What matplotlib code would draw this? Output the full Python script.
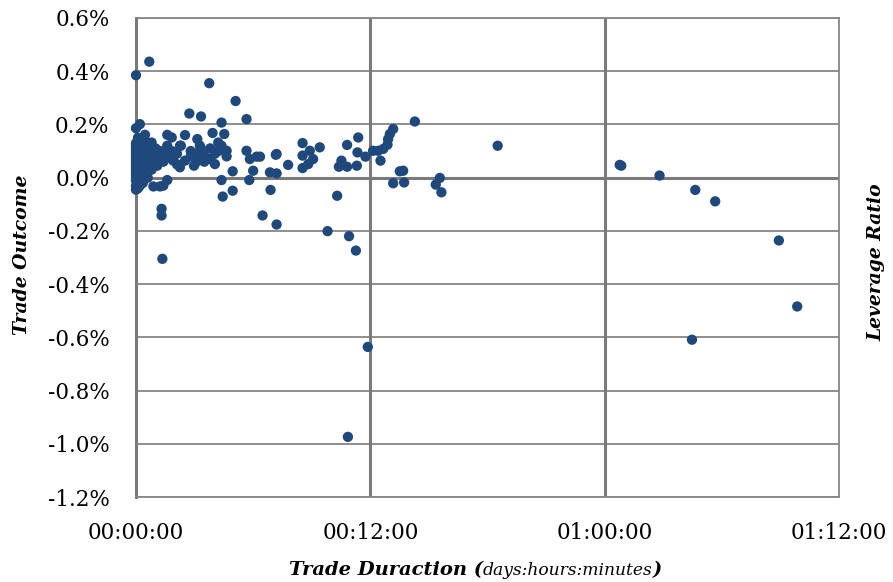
import numpy as np
import matplotlib.pyplot as plt
from matplotlib.ticker import FixedLocator, FuncFormatter

# trade duration in hours, outcome in percent
hours = [0, 0, 0, 0, 0, 0, 0, 0, 0, 0, 0, 0, 0, 0, 0, 0, 0, 0, 0,
         0.1, 0.1, 0.1, 0.1, 0.1, 0.1, 0.1, 0.1,
         0.2, 0.2, 0.2, 0.2, 0.2, 0.2, 0.2,
         0.35, 0.35, 0.35, 0.35, 0.35, 0.35,
         0.46, 0.46, 0.46, 0.46,
         0.6, 0.6, 0.6, 0.6, 0.6,
         0.68,
         0.8, 0.8, 0.8, 0.8,
         0.89, 0.89,
         1.0, 1.0, 1.0,
         1.09, 1.09,
         1.23, 1.23, 1.23,
         1.31, 1.31, 1.35,
         1.4, 1.4, 1.4,
         1.6, 1.6, 1.6, 1.6,
         1.83, 1.83, 1.83, 1.91,
         2.1, 2.1, 2.25, 2.25, 2.3,
         2.51, 2.51, 2.73, 2.8, 2.8, 2.97,
         3.1, 3.1, 3.14, 3.27, 3.33,
         3.5, 3.5, 3.5, 3.75, 3.8, 3.8, 3.92,
         4.04, 4.04, 4.21, 4.21, 4.38, 4.38, 4.38, 4.44, 4.52,
         4.64, 4.64, 4.95, 4.95, 5.1,
         5.66, 5.66, 5.8, 5.83, 6.0, 6.18, 6.35, 6.48,
         6.86, 6.89, 7.16, 7.2, 7.2, 7.2, 7.79,
         8.53, 8.53, 8.53, 8.82, 8.9, 9.07, 9.41, 9.81,
         10.3, 10.39, 10.52, 10.81, 10.81, 10.85, 10.91,
         11.26, 11.31, 11.34, 11.38, 11.75, 11.87,
         12.14, 12.4, 12.52, 12.66, 12.88, 12.91, 13.0, 13.17,
         13.17, 13.51, 13.68, 13.73, 14.28,
         15.35, 15.56, 15.64, 18.52,
         24.77, 24.85, 26.81, 28.47, 28.64, 29.66, 32.92, 33.86]

outcome = [0.385, 0.186, 0.13, 0.11, 0.09, 0.07, 0.05, 0.03, 0.01, -0.01, -0.03, -0.045, 0.12, 0.08, 0.0, 0.06, 0.1, 0.04, 0.02,
           0.15, 0.1, 0.06, 0.02, -0.02, -0.04, 0.12, 0.08,
           0.201, 0.13, 0.09, 0.05, 0.01, -0.03, 0.07,
           0.11, 0.07, 0.03, 0.0, -0.02, 0.14,
           0.161, 0.09, 0.05, 0.12,
           0.13, 0.08, 0.04, 0.0, 0.1,
           0.436,
           0.132, 0.07, 0.03, 0.1,
           -0.033, 0.06,
           0.09, 0.05, 0.11,
           0.045, 0.08,
           -0.033, 0.07, 0.1,
           -0.117, -0.142, -0.305,
           0.06, 0.09, -0.03,
           0.161, 0.12, 0.08, -0.009,
           0.151, 0.1, 0.07, 0.064,
           0.09, 0.05, 0.039, 0.12, 0.12,
           0.064, 0.16, 0.241, 0.1, 0.08, 0.045,
           0.09, 0.06, 0.145, 0.12, 0.23,
           0.08, 0.06, 0.1, 0.355, 0.11, 0.07, 0.168,
           0.051, 0.09, 0.132, 0.1, 0.207, -0.009, 0.12, -0.071, 0.164,
           0.101, 0.08, 0.024, -0.049, 0.288,
           0.22, 0.101, -0.009, 0.07, 0.026, 0.079, 0.079, -0.142,
           0.02, -0.046, 0.086, 0.016, -0.176, 0.089, 0.048,
           0.13, 0.083, 0.036, 0.051, 0.101, 0.07, 0.114, -0.201,
           -0.068, 0.041, 0.064, 0.123, 0.041, -0.974, -0.22,
           -0.274, 0.045, 0.095, 0.151, 0.079, -0.636,
           0.101, 0.101, 0.064, 0.108, 0.124, 0.145, 0.164, 0.183,
           -0.021, 0.024, 0.026, -0.018, 0.211,
           -0.026, -0.001, -0.055, 0.12,
           0.048, 0.045, 0.008, -0.609, -0.046, -0.089, -0.236, -0.484]

x_ticks = [0, 0.5, 1.0, 1.5]
y_ticks = [-1.2, -1.0, -0.8, -0.6, -0.4, -0.2, 0.0, 0.2, 0.4, 0.6]

serif = 'DejaVu Serif'
grid_c = '#868686'
dot_c = '#1f497d'

fig = plt.figure(figsize=(8.93, 5.82), dpi=100)
ax = fig.add_axes([136 / 893, 1 - 497 / 582, (839 - 136) / 893, (497 - 18) / 582])

days = np.array(hours) / 24.0
ax.scatter(days, outcome, s=55, color=dot_c, edgecolors='none', zorder=3, clip_on=False)

ax.set_xlim(0, 1.5)
ax.set_ylim(-1.2, 0.6)
ax.xaxis.set_major_locator(FixedLocator(x_ticks))
ax.yaxis.set_major_locator(FixedLocator(y_ticks))


def dhm(v, pos):
    total = int(round(v * 24 * 60))
    d, rest = divmod(total, 24 * 60)
    h, m = divmod(rest, 60)
    return f'{d:02d}:{h:02d}:{m:02d}'


def pct(v, pos):
    if abs(v) < 1e-9:
        v = 0.0
    return f'{v:.1f}%'


ax.xaxis.set_major_formatter(FuncFormatter(dhm))
ax.yaxis.set_major_formatter(FuncFormatter(pct))

for yv in y_ticks:
    ax.axhline(yv, color=grid_c, lw=1.3, zorder=1)
ax.axhline(0, color='#7a7a7a', lw=2.2, zorder=2)
for xv in x_ticks[1:3]:
    ax.axvline(xv, color='#7a7a7a', lw=2.2, zorder=2)

for side in ['top', 'bottom', 'right']:
    ax.spines[side].set_color(grid_c)
    ax.spines[side].set_linewidth(1.3)
ax.spines['left'].set_color('#7a7a7a')
ax.spines['left'].set_linewidth(2.2)

ax.tick_params(length=0)
ax.tick_params(axis='y', pad=19)
ax.tick_params(axis='x', pad=18)
for lab in ax.get_xticklabels() + ax.get_yticklabels():
    lab.set_fontfamily(serif)
    lab.set_fontsize(15.5)

fig.text(22 / 893, 1 - 255 / 582, 'Trade Outcome', rotation=90, ha='center', va='center',
         rotation_mode='anchor', family=serif, fontsize=13.5, fontweight='bold', fontstyle='italic')
fig.text(876 / 893, 1 - 262 / 582, 'Leverage Ratio', rotation=90, ha='center', va='center',
         rotation_mode='anchor', family=serif, fontsize=13.5, fontweight='bold', fontstyle='italic')

base_y = 1 - 575 / 582
t1 = fig.text(289 / 893, base_y, 'Trade Duraction (', ha='left', va='baseline',
              family=serif, fontsize=14, fontweight='bold', fontstyle='italic')
fig.canvas.draw()
r = fig.canvas.get_renderer()
inv = fig.transFigure.inverted()
x2 = inv.transform((t1.get_window_extent(r).x1, 0))[0]
t2 = fig.text(x2, base_y, 'days:hours:minutes', ha='left', va='baseline',
              family=serif, fontsize=12.3, fontstyle='italic')
fig.canvas.draw()
x3 = inv.transform((t2.get_window_extent(r).x1, 0))[0]
fig.text(x3, base_y, ')', ha='left', va='baseline',
         family=serif, fontsize=14, fontweight='bold', fontstyle='italic')

fig.savefig('out.png', dpi=100)
